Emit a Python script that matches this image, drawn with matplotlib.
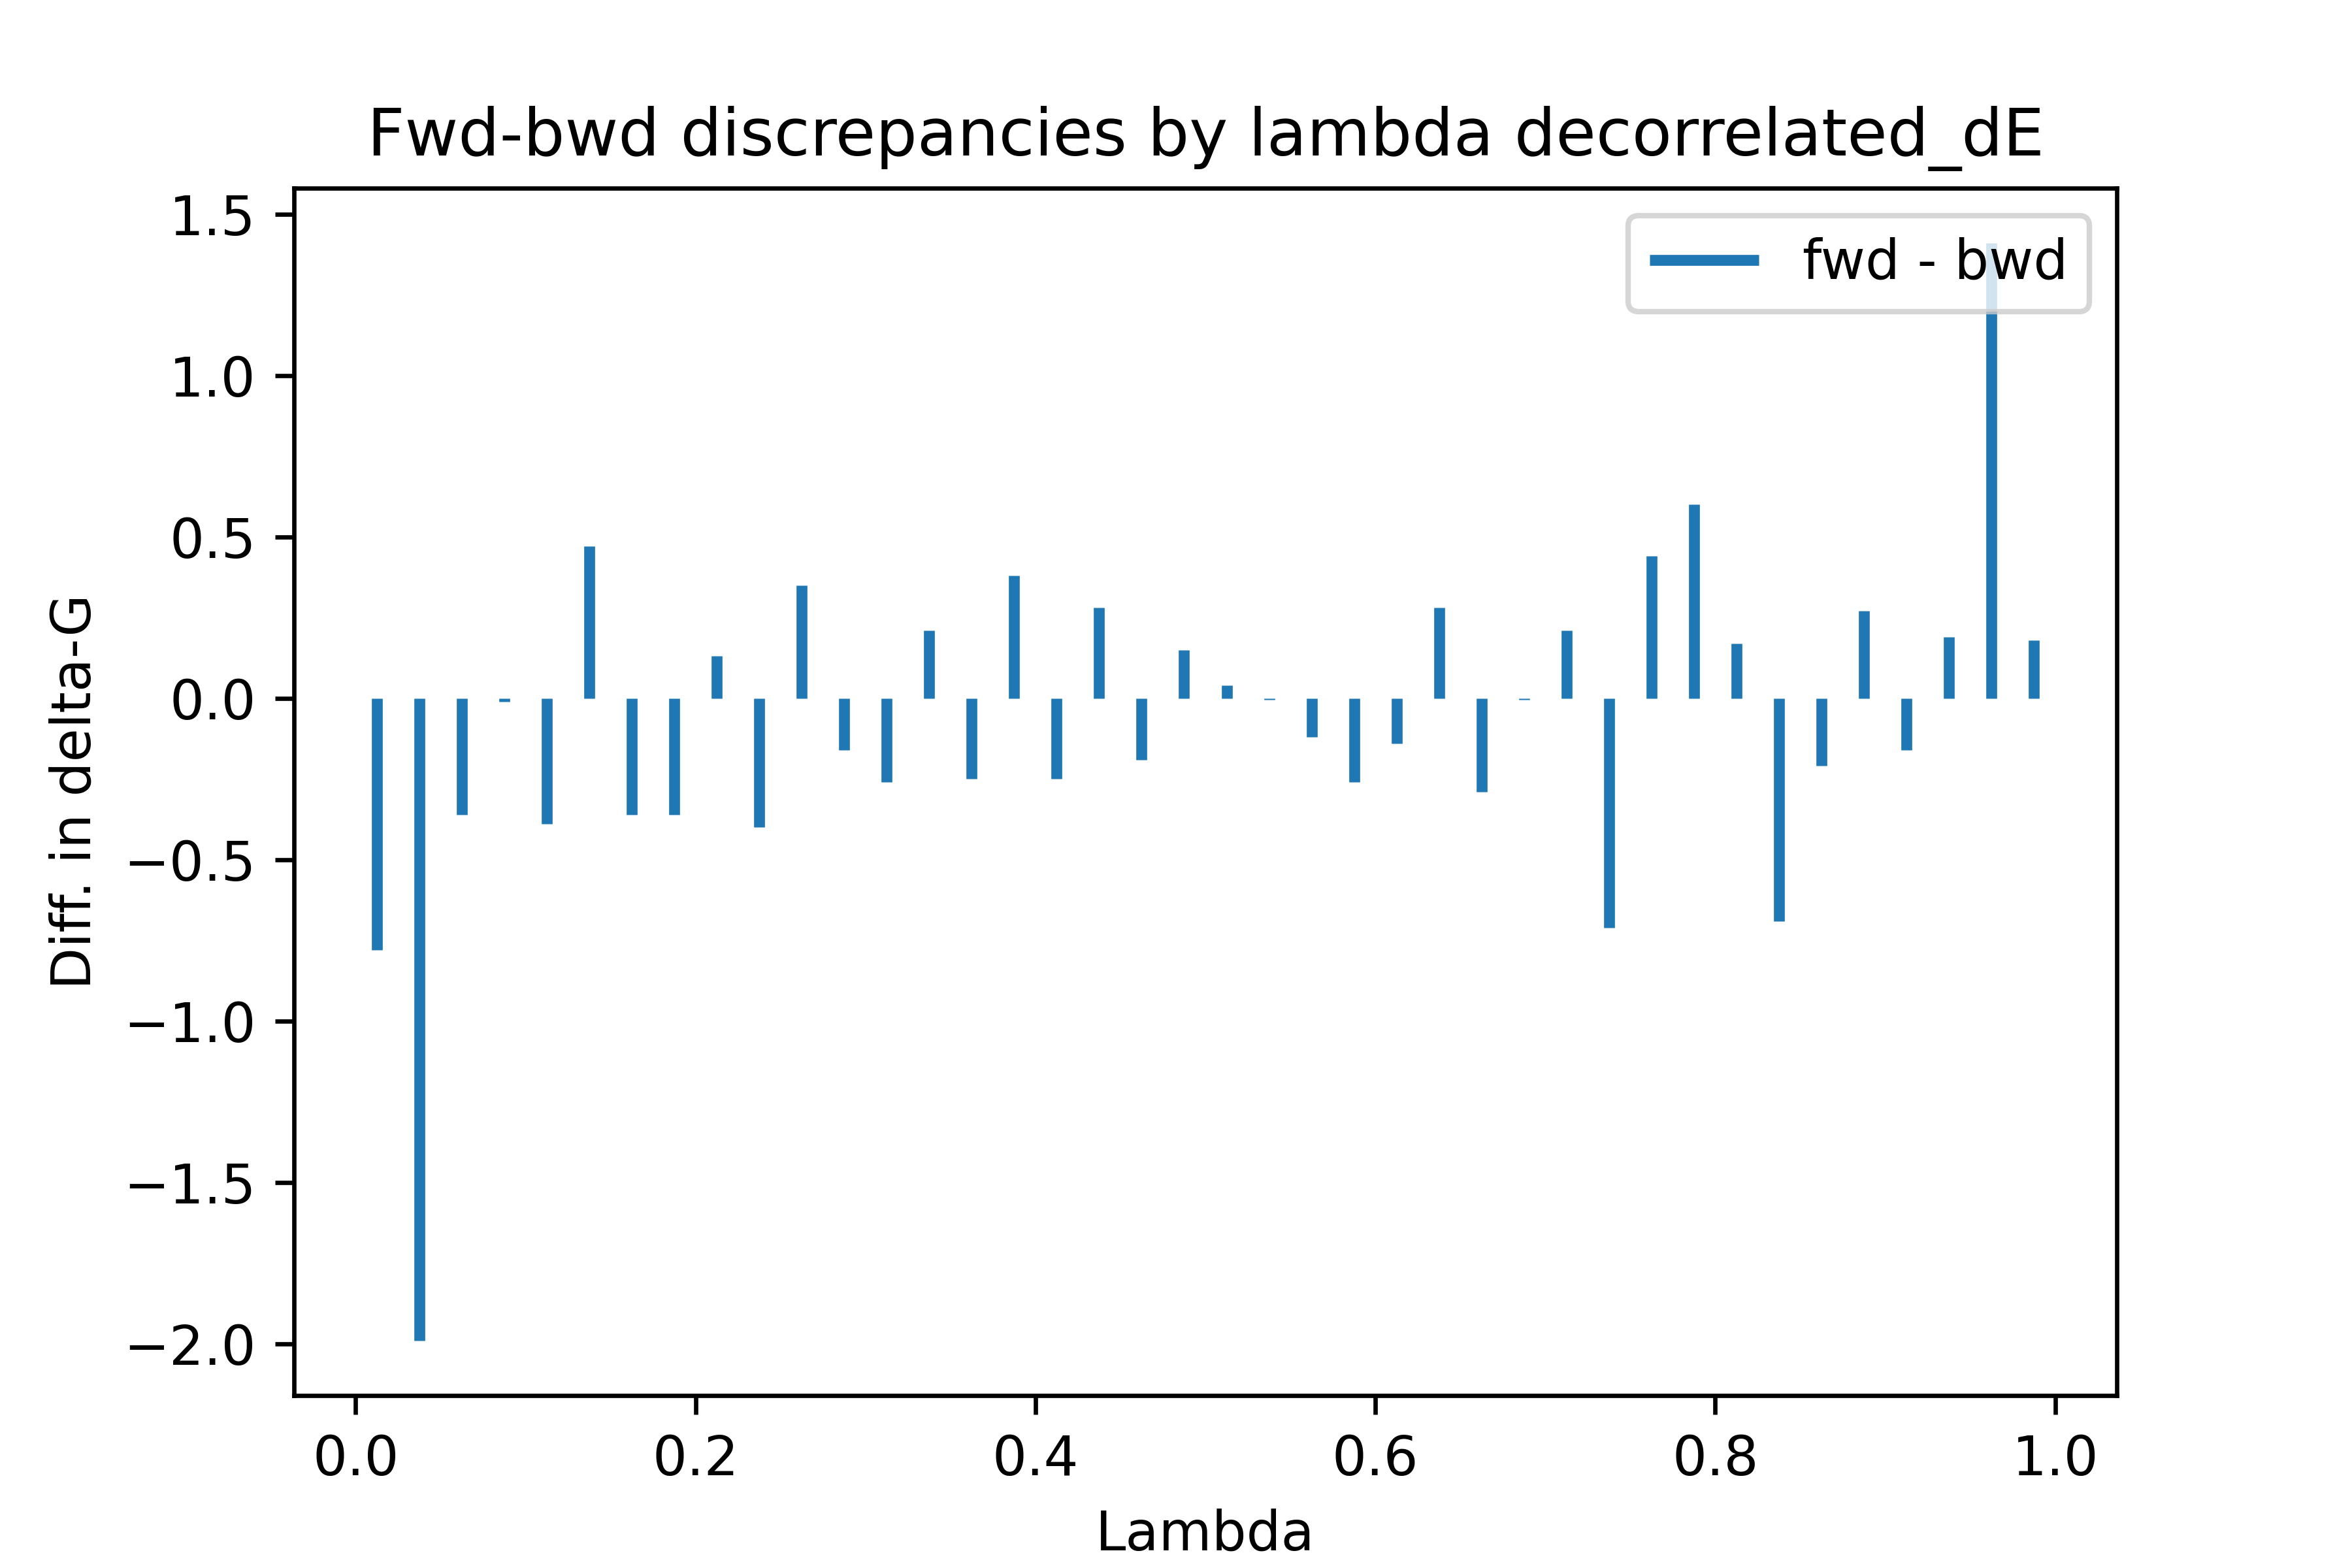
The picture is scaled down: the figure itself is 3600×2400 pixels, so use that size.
import matplotlib
matplotlib.use("Agg")
import matplotlib.pyplot as plt
import numpy as np

lambdas = [0.0125 + 0.025 * i for i in range(40)]
diffs = [-0.78, -1.99, -0.36, -0.01, -0.39, 0.47, -0.36, -0.36, 0.13, -0.40,
         0.35, -0.16, -0.26, 0.21, -0.25, 0.38, -0.25, 0.28, -0.19, 0.15,
         0.04, -0.005, -0.12, -0.26, -0.14, 0.28, -0.29, -0.005, 0.21, -0.71,
         0.44, 0.60, 0.17, -0.69, -0.21, 0.27, -0.16, 0.19, 1.41, 0.18]

fig, ax = plt.subplots(figsize=(6, 4), dpi=600)
ax.vlines(lambdas, 0, diffs, linewidth=2, color='#1f77b4', label='fwd - bwd')
ax.set_title('Fwd-bwd discrepancies by lambda decorrelated_dE')
ax.set_xlabel('Lambda')
ax.set_ylabel('Diff. in delta-G')
ax.legend(loc='upper right')
fig.savefig('out.png', dpi=600)
